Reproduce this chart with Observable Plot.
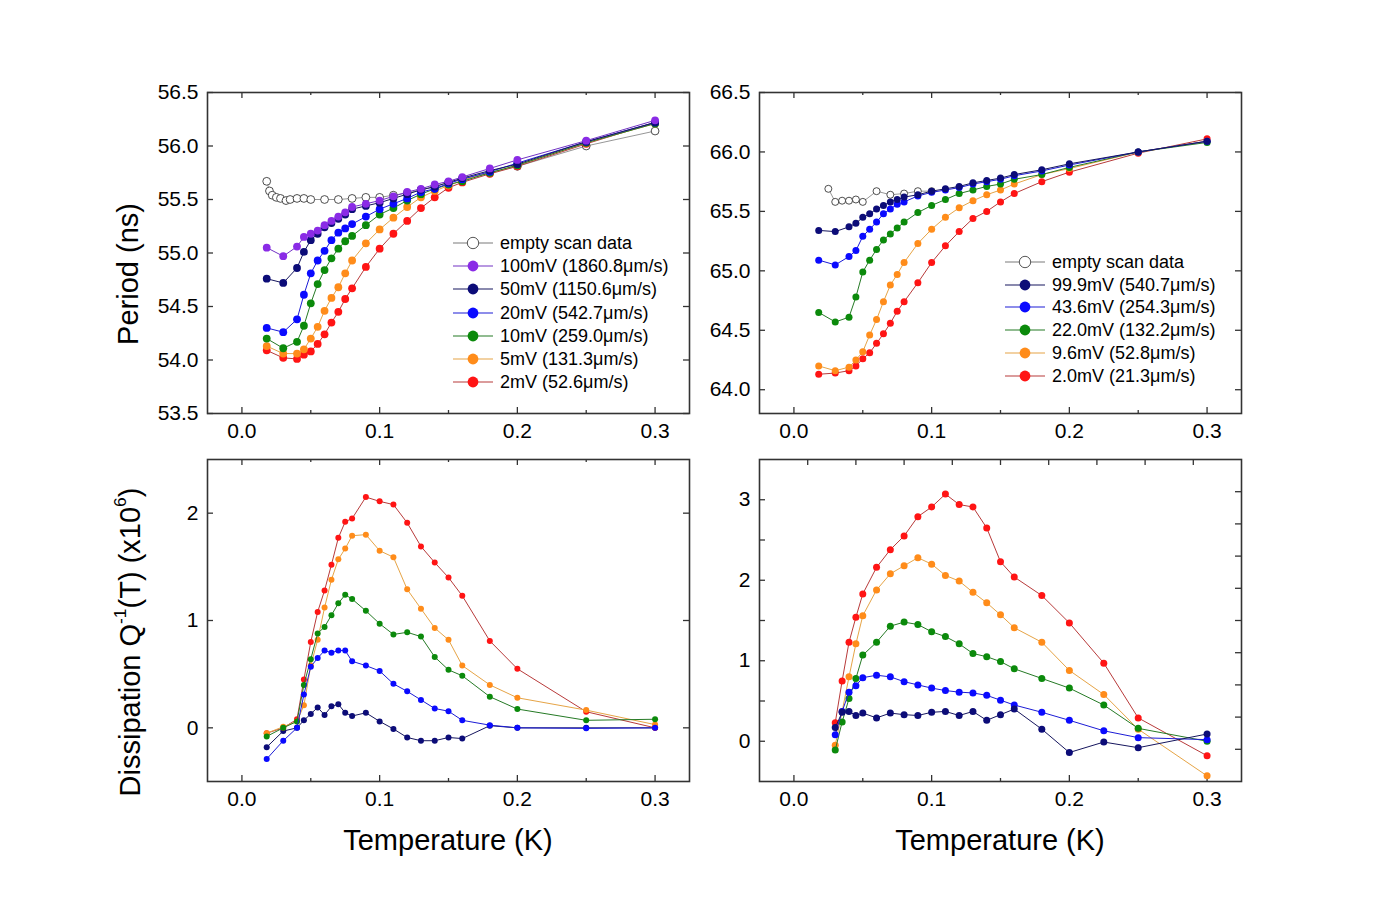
<!DOCTYPE html>
<html><head><meta charset="utf-8">
<script src="https://cdn.jsdelivr.net/npm/d3@7"></script>
<script src="https://cdn.jsdelivr.net/npm/@observablehq/plot@0.6"></script>
<style>
html,body{margin:0;padding:0;background:#fff;}
body{font-family:"Liberation Sans",Arial,sans-serif;color:#000;}
#root{position:relative;width:1379px;height:920px;overflow:hidden;background:#fff;}
.panel{position:absolute;}
.panel svg{display:block;max-width:none !important;overflow:visible;}
.lab{position:absolute;font-size:29px;white-space:nowrap;line-height:1;}
.ylab{transform:translate(-50%,-50%) rotate(-90deg);}
.xlab{transform:translate(-50%,-50%);}
.lab sup{font-size:60%;vertical-align:0.75em;line-height:0;}
.legend{position:absolute;font-size:18px;line-height:1;}
.legend .row{display:flex;align-items:center;white-space:nowrap;}
.legend svg{display:block;flex:none;}
</style></head>
<body><div id="root"></div>
<script>
// ---------------- data ----------------
const T_A = [0.018,0.03,0.04,0.045,0.05,0.055,0.06,0.065,0.07,0.075,0.08,0.09,0.1,0.11,0.12,0.13,0.14,0.15,0.16,0.18,0.2,0.25,0.3];
const T_B = [0.03,0.035,0.04,0.045,0.05,0.06,0.07,0.08,0.09,0.1,0.11,0.12,0.13,0.14,0.15,0.16,0.18,0.2,0.225,0.25,0.3];

// top-left: period (ns)
const emptyA_T = [0.018,0.02,0.022,0.025,0.028,0.032,0.035,0.04,0.045,0.05,0.06,0.07,0.08,0.09,0.1,0.11,0.12,0.13,0.14,0.15,0.16,0.18,0.2,0.25,0.3];
const emptyA   = [55.67,55.58,55.54,55.52,55.51,55.49,55.50,55.51,55.51,55.50,55.50,55.50,55.51,55.52,55.52,55.54,55.56,55.59,55.62,55.66,55.69,55.75,55.81,56.00,56.14];
const p100 = [55.05,54.97,55.06,55.15,55.18,55.21,55.26,55.30,55.34,55.38,55.43,55.46,55.49,55.53,55.57,55.60,55.64,55.67,55.71,55.79,55.87,56.05,56.24];
const p50  = [54.76,54.72,54.86,55.01,55.12,55.18,55.24,55.28,55.32,55.36,55.41,55.44,55.47,55.51,55.55,55.59,55.62,55.66,55.70,55.77,55.83,56.04,56.22];
const p20  = [54.30,54.26,54.38,54.61,54.81,54.93,55.02,55.12,55.19,55.23,55.27,55.34,55.41,55.46,55.51,55.57,55.60,55.65,55.69,55.76,55.84,56.04,56.22];
const p10  = [54.20,54.11,54.17,54.32,54.53,54.71,54.84,54.95,55.04,55.11,55.16,55.26,55.36,55.42,55.49,55.55,55.60,55.64,55.67,55.75,55.82,56.03,56.21];
const p5   = [54.13,54.06,54.06,54.10,54.20,54.31,54.46,54.58,54.68,54.81,54.93,55.09,55.22,55.33,55.43,55.52,55.58,55.63,55.68,55.75,55.82,56.03,56.21];
const p2   = [54.09,54.02,54.01,54.05,54.08,54.15,54.24,54.35,54.45,54.57,54.67,54.87,55.04,55.18,55.30,55.42,55.52,55.61,55.66,55.74,55.81,56.02,56.22];

// top-right: period (ns)
const emptyB_T = [0.025,0.03,0.035,0.04,0.045,0.05,0.06,0.07,0.08,0.09,0.1];
const emptyB   = [65.69,65.58,65.59,65.59,65.60,65.58,65.67,65.64,65.65,65.67,65.67];
const q99 = [65.34,65.33,65.37,65.40,65.45,65.48,65.52,65.55,65.58,65.60,65.62,65.64,65.67,65.69,65.71,65.74,65.76,65.78,65.81,65.85,65.90,66.00,66.09];
const q43 = [65.09,65.05,65.12,65.17,65.29,65.35,65.41,65.48,65.52,65.56,65.58,65.63,65.66,65.68,65.70,65.73,65.75,65.77,65.80,65.84,65.89,66.00,66.09];
const q22 = [64.65,64.57,64.61,64.78,64.99,65.09,65.18,65.26,65.31,65.36,65.41,65.49,65.55,65.60,65.65,65.68,65.71,65.73,65.77,65.81,65.87,66.00,66.08];
const q9  = [64.20,64.16,64.19,64.25,64.32,64.46,64.59,64.74,64.88,64.97,65.07,65.23,65.35,65.45,65.53,65.59,65.64,65.68,65.73,65.81,65.86,66.00,66.09];
const q2  = [64.13,64.14,64.16,64.20,64.26,64.31,64.39,64.47,64.56,64.66,64.74,64.90,65.07,65.21,65.33,65.44,65.50,65.58,65.65,65.75,65.83,65.99,66.11];

// bottom-left: dissipation (x10^6)
const d50 = [-0.18,-0.03,0.00,0.07,0.13,0.19,0.12,0.20,0.22,0.14,0.11,0.14,0.06,-0.01,-0.09,-0.12,-0.12,-0.09,-0.10,0.02,0.00,0.00,0.00];
const d20 = [-0.29,-0.12,0.00,0.31,0.57,0.65,0.72,0.70,0.72,0.72,0.62,0.58,0.53,0.41,0.34,0.26,0.18,0.155,0.07,0.025,0.00,-0.005,0.00];
const d10 = [-0.08,0.00,0.06,0.40,0.64,0.88,0.94,1.05,1.16,1.24,1.20,1.09,0.97,0.87,0.89,0.85,0.66,0.54,0.485,0.29,0.175,0.07,0.08];
const d5  = [-0.05,0.01,0.06,0.21,0.58,0.82,1.12,1.38,1.57,1.67,1.79,1.80,1.65,1.59,1.29,1.11,0.93,0.82,0.58,0.40,0.28,0.165,0.03];
const d2  = [-0.05,0.00,0.08,0.45,0.80,1.08,1.28,1.52,1.77,1.92,1.95,2.15,2.11,2.08,1.91,1.69,1.54,1.40,1.23,0.81,0.55,0.15,0.00];

// bottom-right: dissipation (x10^6)
const e99 = [0.17,0.36,0.37,0.32,0.35,0.29,0.35,0.33,0.32,0.36,0.37,0.32,0.37,0.26,0.33,0.40,0.15,-0.14,-0.01,-0.08,0.09];
const e43 = [0.08,0.37,0.61,0.69,0.79,0.82,0.80,0.74,0.70,0.66,0.63,0.61,0.60,0.57,0.51,0.45,0.36,0.26,0.13,0.045,0.02];
const e22 = [-0.11,0.24,0.53,0.78,1.07,1.23,1.43,1.48,1.45,1.36,1.30,1.21,1.09,1.05,0.99,0.90,0.78,0.66,0.45,0.16,0.00];
const e9  = [-0.05,0.37,0.80,1.21,1.56,1.88,2.08,2.18,2.28,2.20,2.06,1.99,1.85,1.72,1.57,1.41,1.23,0.88,0.58,0.15,-0.43];
const e2  = [0.23,0.75,1.23,1.54,1.83,2.16,2.38,2.55,2.79,2.91,3.07,2.94,2.91,2.65,2.23,2.04,1.81,1.47,0.97,0.29,-0.18];

// tick labels / tick positions
const xMajor = [0, 0.1, 0.2, 0.3];
const xMinor = [0.05, 0.15, 0.25];
const yTicksTL = [53.5,54.0,54.5,55.0,55.5,56.0,56.5];
const yTicksTR = [64.0,64.5,65.0,65.5,66.0,66.5];
const yTicksBL = [0,1,2];
const yLabelsBR = [0,1,2,3];
const yTicksBR = [0,0.5,1,1.5,2,2.5,3];
const topTicksBR = [0.01,0.045,0.08,0.115,0.15,0.185,0.22,0.255,0.29];
const rightTicksBR = [3.1,2.7,2.3,1.9,1.5,1.1,0.7,0.3,-0.1];

const legendA = ["empty scan data","100mV (1860.8μm/s)","50mV (1150.6μm/s)","20mV (542.7μm/s)","10mV (259.0μm/s)","5mV (131.3μm/s)","2mV (52.6μm/s)"];
const legendB = ["empty scan data","99.9mV (540.7μm/s)","43.6mV (254.3μm/s)","22.0mV (132.2μm/s)","9.6mV (52.8μm/s)","2.0mV (21.3μm/s)"];

const fill = {purple:"#8a2be6", navy:"#0c0c78", blue:"#0a0aff", green:"#0b8a0b", orange:"#ff8c1a", red:"#ff1414"};
const lineC = {purple:"#7233c4", navy:"#16165e", blue:"#1c1cd6", green:"#257a25", orange:"#e6a446", red:"#b83a3a"};

// ---------------- drawing ----------------
function rows(ts, vs){ return ts.map((t,i)=>({t, v:vs[i]})); }

function panel(cfg){
  const W = 482, H = cfg.h, ML = 60, MR = 12, MT = 20, MB = 40;
  const tk = {stroke:"#333", strokeWidth:1.3};
  const marks = [
    Plot.tickX(xMajor, {x:d=>d, insetTop:H-6, ...tk}),
    Plot.tickX(xMinor, {x:d=>d, insetTop:H-3, ...tk}),
    Plot.tickX(cfg.topMajor, {x:d=>d, insetBottom:H-6, ...tk}),
    Plot.tickX(cfg.topMinor, {x:d=>d, insetBottom:H-3, ...tk}),
    Plot.tickY(cfg.leftTicks, {y:d=>d, insetRight:W-6, ...tk}),
    Plot.tickY(cfg.rightTicks, {y:d=>d, insetLeft:W-6, ...tk})
  ];
  if (cfg.empty) {
    const ed = rows(cfg.empty[0], cfg.empty[1]);
    marks.push(Plot.line(ed, {x:"t", y:"v", stroke:"#8a8a8a", strokeWidth:0.9}));
    marks.push(Plot.dot(ed, {x:"t", y:"v", r:cfg.r, fill:"white", stroke:"#222", strokeWidth:0.8}));
  }
  for (const s of cfg.series) {
    const data = rows(cfg.t, s.v);
    marks.push(Plot.line(data, {x:"t", y:"v", stroke:lineC[s.c], strokeWidth:1}));
    marks.push(Plot.dot(data, {x:"t", y:"v", r:cfg.r, fill:fill[s.c]}));
  }
  marks.push(Plot.frame({stroke:"#333", strokeWidth:1.6}));
  const svg = Plot.plot({
    width: W+ML+MR, height: H+MT+MB,
    marginLeft: ML, marginRight: MR, marginTop: MT, marginBottom: MB,
    x: {domain:[-0.025,0.325], ticks:xMajor, tickFormat:d3.format(".1f"), tickSize:0, tickPadding:10, label:null},
    y: {domain:cfg.yDomain, ticks:cfg.yLabels, tickFormat:cfg.fmt, tickSize:0, tickPadding:9, label:null},
    style: {fontFamily:'"Liberation Sans", Arial, sans-serif', fontSize:"21px", color:"#000", background:"transparent", overflow:"visible"},
    marks
  });
  const div = document.createElement("div");
  div.className = "panel";
  div.style.left = (cfg.left - ML) + "px";
  div.style.top = (cfg.top - MT) + "px";
  div.style.width = (W+ML+MR) + "px";
  div.appendChild(svg);
  document.getElementById("root").appendChild(div);
}

panel({left:207, top:92, h:321, yDomain:[53.5,56.5], yLabels:yTicksTL, fmt:d3.format(".1f"),
  leftTicks:yTicksTL, rightTicks:yTicksTL, topMajor:xMajor, topMinor:xMinor, r:3.9, t:T_A,
  empty:[emptyA_T, emptyA],
  series:[{c:"red",v:p2},{c:"orange",v:p5},{c:"green",v:p10},{c:"blue",v:p20},{c:"navy",v:p50},{c:"purple",v:p100}]});

panel({left:759, top:92, h:321, yDomain:[63.8,66.5], yLabels:yTicksTR, fmt:d3.format(".1f"),
  leftTicks:yTicksTR, rightTicks:yTicksTR, topMajor:xMajor, topMinor:xMinor, r:3.5, t:T_A,
  empty:[emptyB_T, emptyB],
  series:[{c:"red",v:q2},{c:"orange",v:q9},{c:"green",v:q22},{c:"blue",v:q43},{c:"navy",v:q99}]});

panel({left:207, top:459, h:322, yDomain:[-0.5,2.5], yLabels:yTicksBL, fmt:d3.format("d"),
  leftTicks:yTicksBL, rightTicks:yTicksBL, topMajor:xMajor, topMinor:xMinor, r:3.0, t:T_A,
  series:[{c:"navy",v:d50},{c:"red",v:d2},{c:"orange",v:d5},{c:"green",v:d10},{c:"blue",v:d20}]});

panel({left:759, top:459, h:322, yDomain:[-0.5,3.5], yLabels:yLabelsBR, fmt:d3.format("d"),
  leftTicks:yTicksBR, rightTicks:rightTicksBR, topMajor:topTicksBR, topMinor:[], r:3.5, t:T_B,
  series:[{c:"red",v:e2},{c:"orange",v:e9},{c:"green",v:e22},{c:"blue",v:e43},{c:"navy",v:e99}]});

// axis titles
const root = document.getElementById("root");
function label(html, x, y, cls){
  const d = document.createElement("div");
  d.className = "lab " + cls;
  d.style.left = x + "px"; d.style.top = y + "px";
  d.innerHTML = html;
  root.appendChild(d);
}
label("Period (ns)", 128, 274, "ylab");
label("Dissipation Q<sup>-1</sup>(T) (x10<sup>6</sup>)", 130, 642, "ylab");
label("Temperature (K)", 448, 840, "xlab");
label("Temperature (K)", 1000, 840, "xlab");

// legends
function legend(names, keys, x, y, rowH){
  const box = document.createElement("div");
  box.className = "legend";
  box.style.left = x + "px"; box.style.top = (y - rowH/2) + "px";
  names.forEach((n,i)=>{
    const k = keys[i];
    const row = document.createElement("div");
    row.className = "row"; row.style.height = rowH + "px";
    const stroke = k ? lineC[k] : "#7a7a7a";
    const circ = k ? `<circle cx="20" cy="10" r="5.4" fill="${fill[k]}"/>`
                   : `<circle cx="20" cy="10" r="5.7" fill="white" stroke="#444" stroke-width="0.9"/>`;
    row.innerHTML = `<svg width="40" height="20"><line x1="0" y1="10" x2="40" y2="10" stroke="${stroke}" stroke-width="1.2"/>${circ}</svg><span style="margin-left:7px">${n}</span>`;
    box.appendChild(row);
  });
  root.appendChild(box);
}
legend(legendA, [null,"purple","navy","blue","green","orange","red"], 453, 243.3, 23.1);
legend(legendB, [null,"navy","blue","green","orange","red"], 1005, 261.7, 22.9);
</script>
</body></html>
